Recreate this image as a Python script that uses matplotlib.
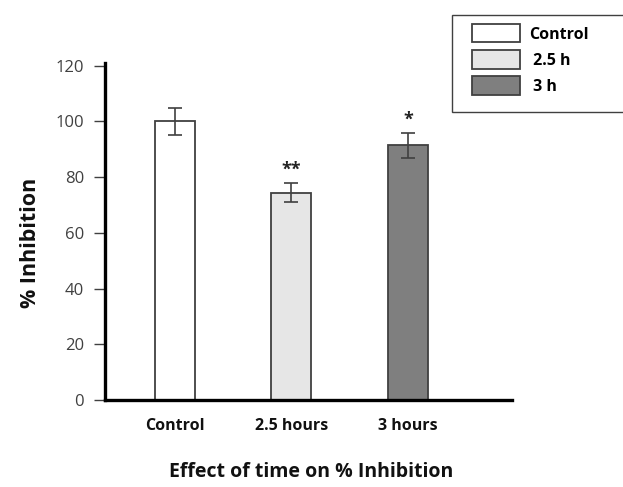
import matplotlib
matplotlib.use("Agg")
from matplotlib import pyplot as plt
from matplotlib.patches import Rectangle
import numpy as np

categories = ["Control", "2.5 hours", "3 hours"]
legend_labels = ["Control", " 2.5 h", " 3 h"]
values = [100, 74.5, 91.5]
errors = [5, 3.5, 4.5]
stars = ["", "**", "*"]
colors = ["#ffffff", "#e6e6e6", "#7f7f7f"]
yticks = [0, 20, 40, 60, 80, 100, 120]

plt.rcParams['font.family'] = ['Open Sans', 'DejaVu Sans']

W, H = 623, 487
fig = plt.figure(figsize=(W / 100, H / 100), dpi=100)
ax = fig.add_axes([105 / W, 87 / H, 407 / W, 337 / H])

x = np.arange(len(categories))
bars = ax.bar(x, values, width=0.345, color=colors, edgecolor="#404040", linewidth=1.3,
              yerr=errors, error_kw=dict(ecolor="#404040", elinewidth=1.2, capsize=5, capthick=1.2))

for xi, v, e, s in zip(x, values, errors, stars):
    if s:
        ax.text(xi, v + e + 1.5, s, ha='center', va='bottom', fontsize=13, fontweight='bold', color='#222222')

ax.set_xlim(-0.6, 2.894)
ax.set_ylim(0, 121)
ax.set_yticks(yticks)
ax.set_xticks(x)
ax.set_xticklabels(categories, fontsize=11.5, fontweight='bold', color='#111111')
ax.tick_params(axis='x', length=0, pad=13)
ax.tick_params(axis='y', length=8, width=1, color='#404040', labelsize=12, labelcolor='#404040', pad=7)

for side in ['top', 'right']:
    ax.spines[side].set_visible(False)
ax.spines['left'].set_linewidth(2.4)
ax.spines['bottom'].set_linewidth(2.4)

fig.text(30 / W, 1 - 243 / H, "% Inhibition", rotation=90, ha='center', va='center',
         fontsize=15.5, fontweight='bold', color='#111111')
fig.text(0.5, 1 - 472 / H, "Effect of time on % Inhibition", ha='center', va='center',
         fontsize=14, fontweight='bold', color='#111111')

# legend frame runs off the right edge like in the original
fig.patches.append(Rectangle((452 / W, 1 - 112 / H), 190 / W, 97 / H, transform=fig.transFigure,
                             facecolor='white', edgecolor='#404040', linewidth=1.0, zorder=1))
leg = fig.legend(bars.patches, legend_labels, loc='upper left',
                 bbox_to_anchor=(472 / W, 1 - 24 / H), frameon=False, fontsize=11.5,
                 handlelength=3.0, handleheight=1.4, labelspacing=0.48,
                 handletextpad=0.55, borderpad=0, borderaxespad=0)
for t in leg.get_texts():
    t.set_fontweight('bold')
leg.set_zorder(2)

fig.savefig("out.png", dpi=100)
